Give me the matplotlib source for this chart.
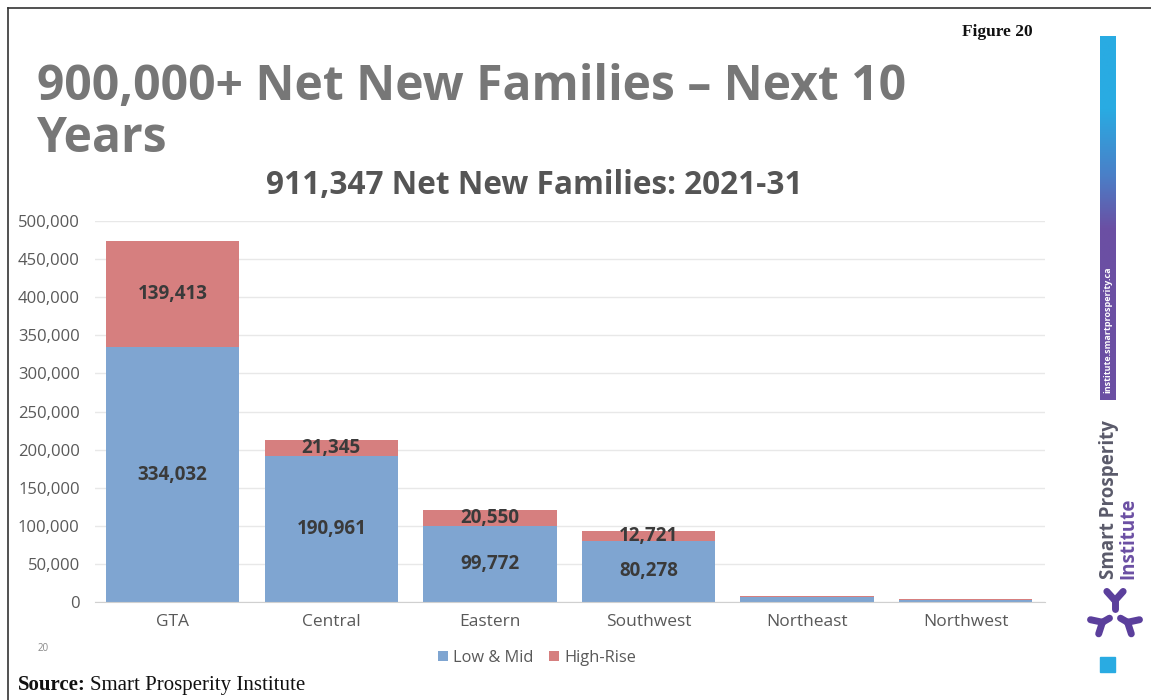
import numpy as np
import matplotlib
matplotlib.use("Agg")
import matplotlib.pyplot as plt
from matplotlib.patches import Rectangle
from matplotlib.lines import Line2D
from matplotlib.colors import LinearSegmentedColormap

# Net new families by region, 2021-31
regions = ["GTA", "Central", "Eastern", "Southwest", "Northeast", "Northwest"]
low_mid = [334032, 190961, 99772, 80278, 6600, 2900]
high_rise = [139413, 21345, 20550, 12721, 1100, 500]
shown_labels = [True, True, True, True, False, False]
yticks = [0, 50000, 100000, 150000, 200000, 250000, 300000, 350000, 400000, 450000, 500000]

W, H = 1151, 700
BLUE = "#7fa5d1"
RED = "#d67f7f"
PURPLE = "#6b4fa3"
CYAN = "#29abe2"
SANS = "Open Sans"

fig = plt.figure(figsize=(W / 100, H / 100), dpi=100)
fig.patch.set_facecolor("white")
renderer = fig.canvas.get_renderer()


def fx(px):
    return px / W


def fy(py):
    return 1 - py / H


def fit_width(txt, target_px):
    """Scale a text's font size so that it spans target_px pixels."""
    w = txt.get_window_extent(renderer).width
    txt.set_fontsize(txt.get_fontsize() * target_px / w)


# outer frame lines (top and left)
fig.add_artist(Line2D([fx(8), 1], [fy(8), fy(8)], color="#333333", lw=1.2))
fig.add_artist(Line2D([fx(8), fx(8)], [fy(8), 0], color="#333333", lw=1.2))

# chart axes
ax = fig.add_axes([fx(95), fy(602), fx(1045) - fx(95), fy(221) - fy(602)])
x = np.arange(len(regions))
width = 0.84
ax.bar(x, low_mid, width, color=BLUE, label="Low & Mid", zorder=2)
ax.bar(x, high_rise, width, bottom=low_mid, color=RED, label="High-Rise", zorder=2)

ax.set_xlim(-0.49, len(regions) - 0.5)
ax.set_ylim(0, 500000)
ax.set_yticks(yticks)
ax.set_yticklabels([f"{v:,}" for v in yticks], fontsize=12, color="#595959",
                   family=SANS)
ax.set_xticks(x)
ax.set_xticklabels(regions, fontsize=12.5, color="#595959", family=SANS)
ax.tick_params(axis="both", length=0)
ax.tick_params(axis="y", pad=11)
ax.tick_params(axis="x", pad=9)
ax.yaxis.grid(True, color="#e8e8e8", lw=1, zorder=0)
for s in ["top", "right", "left"]:
    ax.spines[s].set_visible(False)
ax.spines["bottom"].set_color("#d0d0d0")

# value labels centred in each segment
for i in range(len(regions)):
    if not shown_labels[i]:
        continue
    ax.text(x[i], low_mid[i] / 2, f"{low_mid[i]:,}", ha="center", va="center",
            fontsize=13.5, fontweight="bold", color="#3a3a3a", family=SANS, zorder=3)
    ax.text(x[i], low_mid[i] + high_rise[i] / 2, f"{high_rise[i]:,}", ha="center",
            va="center", fontsize=13.5, fontweight="bold", color="#3a3a3a",
            family=SANS, zorder=3)

# legend
leg = fig.legend(loc="center", bbox_to_anchor=(fx(537), fy(658)), ncol=2, frameon=False,
                 handlelength=0.6, handleheight=0.6, handletextpad=0.3,
                 columnspacing=1.0, prop={"family": SANS, "size": 11.8})
for t in leg.get_texts():
    t.set_color("#595959")

# titles
t1 = fig.text(fx(37), fy(100), "900,000+ Net New Families \u2013 Next 10", fontsize=33,
              fontweight="bold", color="#777777", family=SANS, ha="left", va="baseline")
fit_width(t1, 871)
fig.text(fx(37), fy(152), "Years", fontsize=t1.get_fontsize(), fontweight="bold",
         color="#777777", family=SANS, ha="left", va="baseline")
t2 = fig.text(fx(534), fy(194), "911,347 Net New Families: 2021-31", fontsize=20,
              fontweight="bold", color="#555555", family=SANS, ha="center", va="baseline")
fit_width(t2, 536)
fig.text(fx(1033), fy(36), "Figure 20", fontsize=12.5, fontweight="bold",
         color="#111111", family="Liberation Serif", ha="right", va="baseline")
fig.text(fx(38), fy(651), "20", fontsize=7, color="#888888", family=SANS)

# source line
src = fig.text(fx(18), fy(690), "Source:", fontsize=15, fontweight="bold",
               color="#111111", family="Liberation Serif", ha="left", va="baseline")
src_end = src.get_window_extent(renderer).x1
fig.text((src_end + 4) / W, fy(690), "Smart Prosperity Institute", fontsize=15,
         color="#111111", family="Liberation Serif", ha="left", va="baseline")

# side banner: gradient bar
gax = fig.add_axes([fx(1100), fy(400), fx(1116) - fx(1100), fy(36) - fy(400)])
cmap = LinearSegmentedColormap.from_list(
    "band", [(0.0, CYAN), (0.2, CYAN), (0.38, "#4a80c8"), (0.53, PURPLE), (1.0, PURPLE)])
gax.imshow(np.linspace(0, 1, 256).reshape(-1, 1), aspect="auto", cmap=cmap,
           extent=[0, 1, 1, 0])
gax.set_axis_off()
fig.text(fx(1108), fy(330), "institute.smartprosperity.ca", rotation=90, fontsize=6.5,
         color="white", family=SANS, fontweight="bold", ha="center", va="center")

fig.text(fx(1109), fy(579), "Smart Prosperity", rotation=90, rotation_mode="anchor",
         fontsize=13.5, fontweight="bold", color="#5a5a6a", family=SANS,
         ha="left", va="center")
fig.text(fx(1128), fy(579), "Institute", rotation=90, rotation_mode="anchor",
         fontsize=13.5, fontweight="bold", color=PURPLE, family=SANS,
         ha="left", va="center")

# logo: three Y shapes around a centre
lax = fig.add_axes([fx(1086), fy(644), fx(1144) - fx(1086), fy(586) - fy(644)])
lax.set_xlim(-1, 1)
lax.set_ylim(-1, 1)
lax.set_aspect("equal")
lax.set_axis_off()
for k in range(3):
    a = np.deg2rad(90 + 120 * k)
    cx, cy = 0.22 * np.cos(a), 0.22 * np.sin(a)
    ex, ey = 0.5 * np.cos(a), 0.5 * np.sin(a)
    lax.plot([cx, ex], [cy, ey], color="#5b3f9c", lw=5, solid_capstyle="round")
    for d in (-42, 42):
        b = a + np.deg2rad(d)
        lax.plot([ex, ex + 0.42 * np.cos(b)], [ey, ey + 0.42 * np.sin(b)],
                 color="#5b3f9c", lw=5, solid_capstyle="round")

fig.add_artist(Rectangle((fx(1100), fy(672)), fx(1115) - fx(1100), fy(657) - fy(672),
                         transform=fig.transFigure, color=CYAN))

fig.savefig("out.png", dpi=100)
